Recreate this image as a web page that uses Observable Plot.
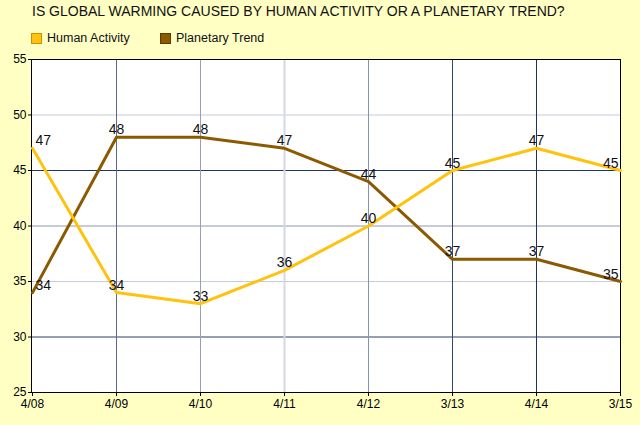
<!DOCTYPE html>
<html><head><meta charset="utf-8">
<script src="https://cdn.jsdelivr.net/npm/d3@7"></script>
<script src="https://cdn.jsdelivr.net/npm/@observablehq/plot@0.6"></script>
<style>
body{margin:0;background:#ffffc4;font-family:"Liberation Sans",Arial,sans-serif;width:640px;height:425px;overflow:hidden;position:relative}
#title{position:absolute;left:32px;top:3px;font-size:14px;color:#111;white-space:nowrap}
.leg{position:absolute;top:31px;font-size:12.5px;display:flex;align-items:center;color:#111;white-space:nowrap}
.sw{width:9px;height:9px;border:1px solid;margin-right:5px}
#chart{position:absolute;left:0;top:50px}
</style></head><body>
<div id="title">IS GLOBAL WARMING CAUSED BY HUMAN ACTIVITY OR A PLANETARY TREND?</div>
<div class="leg" style="left:31px"><span class="sw" style="background:#ffc20e;border-color:#c89400"></span>Human Activity</div>
<div class="leg" style="left:160px"><span class="sw" style="background:#8b5a00;border-color:#5a3a00"></span>Planetary Trend</div>
<div id="chart"></div>
<script>
const dates = ["4/08","4/09","4/10","4/11","4/12","3/13","4/14","3/15"];
const human = [47,34,33,36,40,45,47,45];
const planetary = [34,48,48,47,44,37,37,35];
const yTicks = [25,30,35,40,45,50,55];
const gridY = [30,35,40,45,50];

const gridYColor = {30:"#2e3f66",35:"#c5cad8",40:"#8f98ae",45:"#1e3564",50:"#c5cad8"};
const gridXColor = {"4/09":"#5d6985","4/10":"#98a0b5","4/11":"#d3d8e4","4/12":"#8593ab","3/13":"#33466c","4/14":"#1d3260"};
const YELLOW = "#ffc20e", BROWN = "#8b5a00";

const rows = dates.map((d,i)=>({date:d, i, human:human[i], planetary:planetary[i]}));
const n = dates.length;

function labels(key){
  const base = {x:"date", y:key, text:d=>String(d[key]), lineAnchor:"bottom", dy:-3, fontSize:14, fill:"#111"};
  return [
    Plot.text(rows.filter(d=>d.i===0), {...base, textAnchor:"start", dx:3}),
    Plot.text(rows.filter(d=>d.i>0 && d.i<n-1), {...base, textAnchor:"middle"}),
    Plot.text(rows.filter(d=>d.i===n-1), {...base, textAnchor:"end", dx:-2})
  ];
}

const chart = Plot.plot({
  width:640, height:375,
  marginLeft:31, marginRight:20, marginTop:9, marginBottom:33,
  style:{background:"transparent", fontFamily:"'Liberation Sans',Arial,sans-serif", color:"#000", overflow:"visible"},
  x:{type:"point", domain:dates, padding:0, label:null},
  y:{domain:[25,55], label:null},
  color:{type:"identity"},
  marks:[
    Plot.frame({fill:"white", stroke:"none"}),
    Plot.ruleY(gridY, {y:d=>d, stroke:d=>gridYColor[d], strokeWidth:1}),
    Plot.ruleX(dates.slice(1,-1), {x:d=>d, stroke:d=>gridXColor[d], strokeWidth:d=>d==="4/11"?2:1}),
    Plot.frame({stroke:"#000", strokeWidth:1}),
    Plot.axisY({ticks:yTicks, tickSize:3, tickPadding:2, fontSize:12, label:null}),
    Plot.axisX({tickSize:4, tickPadding:3, fontSize:12, label:null}),
    Plot.line(rows, {x:"date", y:"planetary", stroke:BROWN, strokeWidth:3}),
    Plot.line(rows, {x:"date", y:"human", stroke:YELLOW, strokeWidth:3}),
    ...labels("human"),
    ...labels("planetary")
  ]
});
document.getElementById("chart").appendChild(chart);
</script>
</body></html>
